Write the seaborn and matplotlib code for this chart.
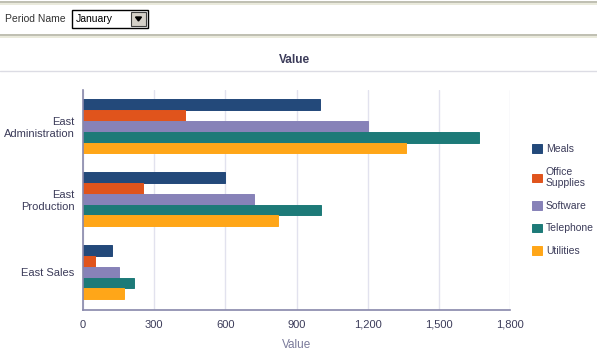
import pandas as pd
import seaborn as sns
import matplotlib.pyplot as plt
from matplotlib.lines import Line2D
from matplotlib.patches import Rectangle, Polygon

# chart data
regions = ['East\nAdministration', 'East\nProduction', 'East Sales']
types = ['Meals', 'Office\nSupplies', 'Software', 'Telephone', 'Utilities']
meals = [1000, 600, 124]
office_supplies = [430, 255, 52]
software = [1200, 720, 150]
telephone = [1670, 1005, 214]
utilities = [1360, 820, 172]
xticks = [0, 300, 600, 900, 1200, 1500, 1800]
xtick_labels = ['0', '300', '600', '900', '1,200', '1,500', '1,800']

colors = ['#23497a', '#e0541c', '#8782b8', '#1d7a78', '#ffa618']

rows = []
for t, vals in zip(types, [meals, office_supplies, software, telephone, utilities]):
    for r, v in zip(regions, vals):
        rows.append({'Region': r, 'Type': t, 'Value': v})
df = pd.DataFrame(rows)

sns.set_style('white')
plt.rcParams['font.family'] = ['Liberation Sans', 'DejaVu Sans']
text_col = '#3c3c5a'

W, H = 597, 360
fig = plt.figure(figsize=(W / 100, H / 100), dpi=100)
ax = fig.add_axes([83 / W, 1 - 310 / H, (510 - 83) / W, (310 - 90) / H])

sns.barplot(data=df, y='Region', x='Value', hue='Type', orient='h',
            palette=colors, width=0.74, saturation=1, ax=ax, legend=True)
handles, labels = ax.get_legend_handles_labels()
ax.get_legend().remove()
# close the hairline gaps between touching bars
for bar in ax.patches:
    bar.set_edgecolor(bar.get_facecolor())
    bar.set_linewidth(0.7)

ax.set_xlim(0, 1800)
ax.set_ylim(2.52, -0.5)
ax.set_xticks(xticks)
ax.set_xticklabels(xtick_labels)
ax.xaxis.grid(True, color='#e2e2ee', linewidth=1)
ax.set_axisbelow(True)
for s in ['top', 'right']:
    ax.spines[s].set_visible(False)
for s in ['left', 'bottom']:
    ax.spines[s].set_color('#8888aa')
    ax.spines[s].set_linewidth(1.2)
ax.tick_params(axis='both', length=0, labelsize=8, labelcolor=text_col)
ax.tick_params(axis='x', pad=7)
ax.tick_params(axis='y', pad=6)
ax.set_ylabel('')
ax.set_xlabel('Value', fontsize=8.5, color='#7a7a9a', labelpad=7)

fig.legend(handles, labels, loc='upper left', bbox_to_anchor=(523 / W, 1 - 135 / H),
           frameon=False, fontsize=7.5, labelcolor=text_col, handlelength=0.9,
           handleheight=0.9, handletextpad=0.4, labelspacing=1.2)

# chart title and divider
fig.text(294 / W, 1 - 60 / H, 'Value', ha='center', va='center',
         fontsize=8.5, fontweight='bold', color='#3c3c5a')
fig.add_artist(Line2D([0, 1], [1 - 71 / H] * 2, color='#dcdce4', lw=1))

# toolbar lines
for y, c in [(1.5, '#b4b4a4'), (3.5, '#e6e6d6'), (34.5, '#b4b4a4'), (36.5, '#e6e6d6')]:
    fig.add_artist(Line2D([0, 1], [1 - y / H] * 2, color=c, lw=1.2))

fig.text(5 / W, 1 - 19 / H, 'Period Name', ha='left', va='center',
         fontsize=7.5, color='#333333')
fig.add_artist(Rectangle((72 / W, 1 - 28 / H), 76 / W, 18 / H,
                         transform=fig.transFigure, facecolor='white',
                         edgecolor='black', lw=1))
fig.text(76 / W, 1 - 19 / H, 'January', ha='left', va='center',
         fontsize=7.5, color='black')
fig.add_artist(Rectangle((131 / W, 1 - 26 / H), 15 / W, 14 / H,
                         transform=fig.transFigure, facecolor='#d4d0c8',
                         edgecolor='#404040', lw=0.8))
fig.add_artist(Polygon([(135.5 / W, 1 - 17 / H), (141.5 / W, 1 - 17 / H),
                        (138.5 / W, 1 - 21 / H)], closed=True,
                       transform=fig.transFigure, color='black'))

fig.savefig('out.png', dpi=100)
